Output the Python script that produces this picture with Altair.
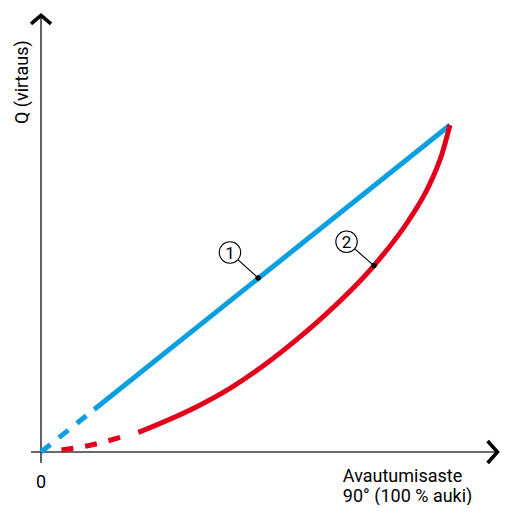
import altair as alt
import pandas as pd

# ---- data ----
blue_dash_x = [0.0, 13.0]
blue_dash_y = [0.0, 13.0]
blue_solid_x = [13.0, 100.0]
blue_solid_y = [13.0, 100.0]

red_dash_x = [5.0, 12.6, 19.4]
red_dash_y = [0.6, 2.2, 4.5]
red_solid_x = [23.8, 38.07, 46.2, 54.35, 62.5, 68.2, 81.4, 89.8, 94.7, 97.97, 100.0]
red_solid_y = [6.0, 13.85, 19.48, 26.39, 34.37, 40.49, 57.0, 70.64, 81.04, 90.89, 100.0]

marker_labels = ["1", "2"]
marker_point_x = [53.1, 81.4]
marker_point_y = [53.2, 57.0]
marker_circle_x = [46.2, 74.7]
marker_circle_y = [61.0, 64.3]

x_axis_title = ["Avautumisaste", "90° (100 % auki)"]
y_axis_title = "Q (virtaus)"
origin_label = "0"

BLUE = "#0a9fe0"
RED = "#e2001a"
FONT = "Roboto"

# ---- layout (pixel anchors of the drawing) ----
W, H = 493, 497
OX, OY = 33, 444          # pixel position of data (0, 0)
PX_X, PX_Y = 4.09, 3.27   # pixels per data unit

xs = alt.Scale(domain=[-OX / PX_X, (W - OX) / PX_X], nice=False, zero=False)
ys = alt.Scale(domain=[(OY - H) / PX_Y, OY / PX_Y], nice=False, zero=False)


def X(field, **kw):
    return alt.X(field, type="quantitative", scale=xs, axis=None, **kw)


def Y(field, **kw):
    return alt.Y(field, type="quantitative", scale=ys, axis=None, **kw)


# axes lines
axes_df = pd.DataFrame({
    "x": [0.0, -2.44], "x2": [0.0, 111.6],
    "y": [-3.36, 0.0], "y2": [133.5, 0.0],
})
axes = alt.Chart(axes_df).mark_rule(color="#3a3a3a", strokeWidth=1.6).encode(
    x=X("x"), x2="x2", y=Y("y"), y2="y2"
)

# arrow heads
arrow_df = pd.DataFrame({
    "id": ["y", "y", "y", "x", "x", "x"],
    "o": [0, 1, 2, 0, 1, 2],
    "x": [-2.45, 0.0, 2.45, 109.2, 111.6, 109.2],
    "y": [130.9, 133.5, 130.9, 3.36, 0.0, -3.36],
})
arrows = alt.Chart(arrow_df).mark_line(
    color="black", strokeWidth=3.6, strokeJoin="miter", strokeCap="butt"
).encode(x=X("x"), y=Y("y"), detail="id:N", order="o:Q")


def line_df(xv, yv):
    return pd.DataFrame({"x": xv, "y": yv, "o": list(range(len(xv)))})


blue_dash = alt.Chart(line_df(blue_dash_x, blue_dash_y)).mark_line(
    color=BLUE, strokeWidth=5, strokeDash=[12, 11], strokeCap="butt"
).encode(x=X("x"), y=Y("y"), order="o:Q")
blue_solid = alt.Chart(line_df(blue_solid_x, blue_solid_y)).mark_line(
    color=BLUE, strokeWidth=5, strokeCap="butt"
).encode(x=X("x"), y=Y("y"), order="o:Q")
red_dash = alt.Chart(line_df(red_dash_x, red_dash_y)).mark_line(
    color=RED, strokeWidth=5, strokeDash=[12, 12], strokeCap="butt", interpolate="monotone"
).encode(x=X("x"), y=Y("y"), order="o:Q")
red_solid = alt.Chart(line_df(red_solid_x, red_solid_y)).mark_line(
    color=RED, strokeWidth=5, strokeCap="butt", interpolate="monotone"
).encode(x=X("x"), y=Y("y"), order="o:Q")

# markers
mk_df = pd.DataFrame({
    "label": marker_labels,
    "px": marker_point_x, "py": marker_point_y,
    "cx": marker_circle_x, "cy": marker_circle_y,
})
leaders = alt.Chart(mk_df).mark_rule(color="black", strokeWidth=1.1).encode(
    x=X("cx"), y=Y("cy"), x2="px", y2="py"
)
dots = alt.Chart(mk_df).mark_point(filled=True, color="black", size=30, opacity=1).encode(
    x=X("px"), y=Y("py")
)
circles = alt.Chart(mk_df).mark_point(
    shape="circle", size=460, fill="white", stroke="black", strokeWidth=1.1, opacity=1, fillOpacity=1
).encode(x=X("cx"), y=Y("cy"))
circle_text = alt.Chart(mk_df).mark_text(
    font=FONT, fontSize=17, color="black", align="center", baseline="middle", dy=1
).encode(x=X("cx"), y=Y("cy"), text="label:N")

# axis texts
lab_df = pd.DataFrame({
    "text": [origin_label, x_axis_title[0], x_axis_title[1]],
    "x": [0.0, 73.8, 73.8],
    "y": [-11.0, -9.17, -15.29],
})
lab_center = alt.Chart(lab_df.iloc[[0]]).mark_text(
    font=FONT, fontSize=18, color="black", align="center", baseline="alphabetic"
).encode(x=X("x"), y=Y("y"), text="text:N")
lab_left = alt.Chart(lab_df.iloc[[1, 2]]).mark_text(
    font=FONT, fontSize=18, color="black", align="left", baseline="alphabetic"
).encode(x=X("x"), y=Y("y"), text="text:N")
ytitle = alt.Chart(pd.DataFrame({"text": [y_axis_title], "x": [-3.2], "y": [113.1]})).mark_text(
    font=FONT, fontSize=18, color="black", align="center", baseline="alphabetic", angle=270
).encode(x=X("x"), y=Y("y"), text="text:N")

chart = alt.layer(
    axes, arrows, blue_dash, blue_solid, red_dash, red_solid,
    leaders, dots, circles, circle_text, lab_center, lab_left, ytitle
).properties(
    width=W, height=H, autosize=alt.AutoSizeParams(type="none"), padding=0,
    background="white"
).configure_view(stroke=None)

chart.save("out.html", embed_options={"renderer": "svg", "actions": False})
